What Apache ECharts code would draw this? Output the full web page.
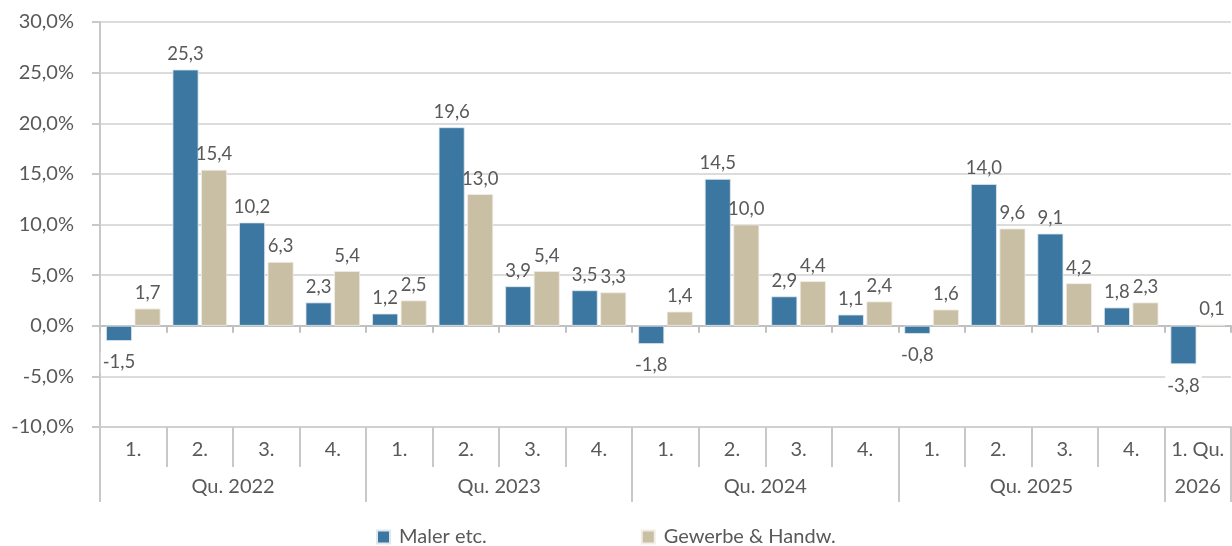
<!DOCTYPE html>
<html>
<head>
<meta charset="utf-8">
<script src="https://cdn.jsdelivr.net/npm/echarts@6/dist/echarts.min.js"></script>
<style>
html,body{margin:0;padding:0;background:#fff;}
#chart{width:1232px;height:546px;}
</style>
</head>
<body>
<div id="chart"></div>
<script>
const quarterLabels = ['1.','2.','3.','4.','1.','2.','3.','4.','1.','2.','3.','4.','1.','2.','3.','4.','1. Qu.'];
const groupLabels = ['Qu. 2022','Qu. 2023','Qu. 2024','Qu. 2025','2026'];
const groupCenters = [2, 6, 10, 14, 16.5];
const groupBounds = [0, 4, 8, 12, 16, 17];
const seriesNames = ['Maler etc.', 'Gewerbe & Handw.'];
const maler = [-1.5, 25.3, 10.2, 2.3, 1.2, 19.6, 3.9, 3.5, -1.8, 14.5, 2.9, 1.1, -0.8, 14.0, 9.1, 1.8, -3.8];
const gewerbe = [1.7, 15.4, 6.3, 5.4, 2.5, 13.0, 5.4, 3.3, 1.4, 10.0, 4.4, 2.4, 1.6, 9.6, 4.2, 2.3, 0.1];

const FONT = 'Lato';
const TXT = '#595959';
const fmt1 = v => v.toFixed(1).replace('.', ',');

function mkData(arr) {
  return arr.map(v => ({
    value: v,
    label: v < 0
      ? { position: 'bottom', distance: 11, backgroundColor: '#fff', padding: [1, 2] }
      : { position: 'top' }
  }));
}

const chart = echarts.init(document.getElementById('chart'), null, {renderer: 'canvas'});
chart.setOption({
  animation: false,
  backgroundColor: '#fff',
  grid: { left: 100, right: 1, top: 22, bottom: 119, containLabel: false },
  legend: {
    left: 376, top: 527, padding: 0,
    itemWidth: 13, itemHeight: 13, itemGap: 154,
    icon: 'rect',
    textStyle: { fontFamily: FONT, fontSize: 20, color: TXT, padding: [0, 0, 0, 4] },
    data: seriesNames
  },
  xAxis: [
    {
      type: 'category', data: quarterLabels, position: 'bottom',
      axisLine: { onZero: false, show: true, lineStyle: { color: '#d0d0d0', width: 2 } },
      axisTick: { show: true, interval: 0, length: 40, lineStyle: { color: '#c8c8c8', width: 2 } },
      axisLabel: { interval: 0, margin: 13, fontFamily: FONT, fontSize: 20, color: TXT },
      splitLine: { show: false }
    },
    {
      type: 'value', min: 0, max: 17, position: 'bottom',
      axisLine: { show: false, onZero: false },
      axisTick: { show: true, customValues: groupBounds, length: 75, lineStyle: { color: '#c8c8c8', width: 2 } },
      axisLabel: {
        show: true, customValues: groupCenters, margin: 50,
        fontFamily: FONT, fontSize: 20, color: TXT,
        formatter: v => { const i = groupCenters.indexOf(v); return i >= 0 ? groupLabels[i] : ''; }
      },
      splitLine: { show: false }
    },
    {
      type: 'category', data: quarterLabels, position: 'bottom',
      axisLine: { onZero: true, show: true, lineStyle: { color: '#c0c0c0', width: 2 } },
      axisTick: { show: true, interval: 0, length: 7, lineStyle: { color: '#c0c0c0', width: 2 } },
      axisLabel: { show: false },
      splitLine: { show: false }
    }
  ],
  yAxis: {
    type: 'value', min: -10, max: 30, interval: 5,
    axisLine: { show: true, onZero: false, lineStyle: { color: '#c8c8c8', width: 2 } },
    axisTick: { show: true, length: 8, lineStyle: { color: '#c8c8c8', width: 2 } },
    axisLabel: { margin: 26, fontFamily: FONT, fontSize: 20, color: TXT, formatter: v => fmt1(v) + '%' },
    splitLine: { show: true, lineStyle: { color: '#dcdcdc', width: 2 } }
  },
  series: [
    {
      name: seriesNames[0], type: 'bar', xAxisIndex: 0, yAxisIndex: 0,
      data: mkData(maler), barWidth: '39%', barGap: '10%',
      itemStyle: { color: '#3b77a0', borderColor: '#dfe8ef', borderWidth: 0.8 },
      label: {
        show: true, distance: 6, fontFamily: FONT, fontSize: 18.5, color: TXT,
        formatter: p => fmt1(p.value)
      }
    },
    {
      name: seriesNames[1], type: 'bar', xAxisIndex: 0, yAxisIndex: 0,
      data: mkData(gewerbe), barWidth: '39%', barGap: '10%',
      itemStyle: { color: '#c9bfa5', borderColor: '#f2eee6', borderWidth: 0.8 },
      label: {
        show: true, distance: 6, fontFamily: FONT, fontSize: 18.5, color: TXT,
        formatter: p => fmt1(p.value)
      }
    }
  ]
});
</script>
</body>
</html>
